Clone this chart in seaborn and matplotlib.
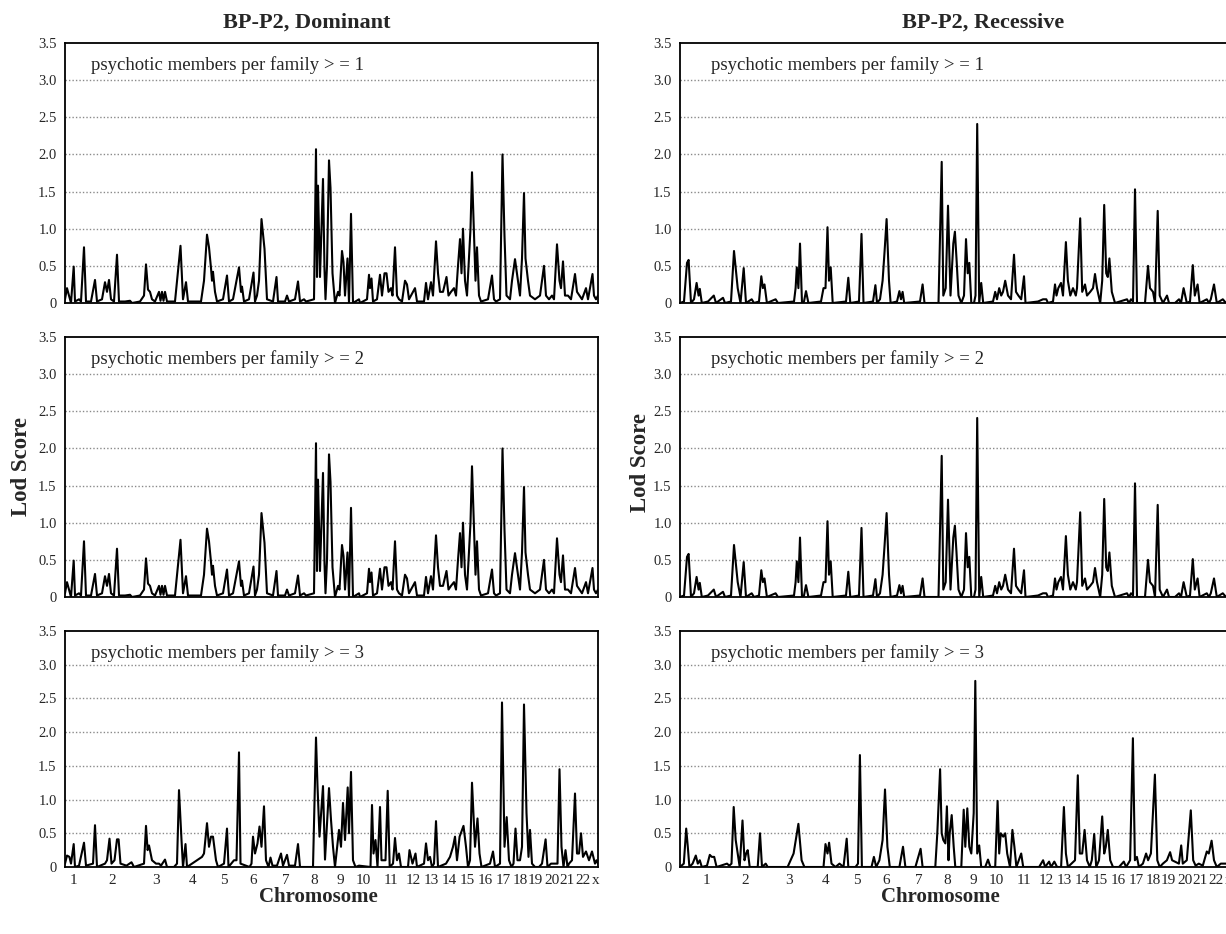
import pandas as pd
import matplotlib
matplotlib.use("Agg")
import matplotlib.pyplot as plt
import seaborn as sns

# genome position (map units along the x axis) and LOD score
DOM_GE1 = [(0, 0.05), (2, 0.2), (4, 0.1), (6, 0.0), (8.7, 0.49), (10, 0.02), (14, 0.05), (16, 0.02),
           (19, 0.75), (21, 0.02), (26, 0.02), (30, 0.31), (32, 0.02), (37, 0.05), (40, 0.28), (42, 0.15),
           (44, 0.31), (46, 0.05), (49, 0.02), (52, 0.65), (54, 0.02), (60, 0.02), (65, 0.03), (67, 0.0),
           (75, 0.02), (79, 0.1), (81, 0.52), (83, 0.18), (85, 0.15), (87, 0.05), (90, 0.02), (94, 0.15),
           (95.5, 0.03), (97, 0.15), (98.5, 0.03), (100, 0.15), (102, 0.02), (110, 0.02), (115.5, 0.77),
           (118, 0.05), (121, 0.28), (123, 0.02), (136, 0.02), (139, 0.3), (142, 0.92), (144, 0.75),
           (146, 0.47), (147, 0.3), (148, 0.42), (150, 0.15), (152, 0.02), (158, 0.05), (162, 0.37),
           (164, 0.02), (168, 0.05), (174, 0.48), (176, 0.15), (177, 0.22), (179, 0.02), (184, 0.05),
           (188.5, 0.41), (190, 0.02), (192, 0.1), (194, 0.3), (196.5, 1.13), (199.5, 0.73), (202, 0.05),
           (208, 0.02), (211.5, 0.35), (213, 0.02), (220, 0.02), (222, 0.1), (224, 0.02), (230, 0.05),
           (233, 0.29), (235, 0.02), (239, 0.05), (241, 0.02), (249, 0.05), (251, 2.07), (252, 0.35),
           (253, 1.58), (255, 0.35), (258, 1.67), (259.5, 0.45), (260.5, 0.05), (262, 0.5), (264, 1.92),
           (265.5, 1.55), (267.5, 0.4), (270, 0.0), (273, 0.15), (274.5, 0.1), (277, 0.70), (278.5, 0.55),
           (280, 0.1), (282.5, 0.6), (284, 0.0), (286, 1.20), (288, 0.0), (294, 0.05), (295, 0.0),
           (302, 0.05), (304, 0.38), (305, 0.2), (306.5, 0.33), (308, 0.02), (312, 0.05), (315, 0.38),
           (317, 0.1), (319.5, 0.4), (321.5, 0.4), (323.5, 0.15), (326, 0.2), (327.5, 0.1), (330, 0.75),
           (332, 0.1), (334, 0.05), (337, 0.02), (340, 0.3), (342, 0.25), (344, 0.05), (350, 0.2),
           (352, 0.02), (359, 0.02), (361, 0.27), (363, 0.05), (366, 0.28), (368, 0.1), (371, 0.83),
           (373, 0.4), (375, 0.15), (378, 0.15), (381.5, 0.35), (383.5, 0.1), (386, 0.15), (389, 0.2),
           (391, 0.1), (393, 0.5), (395, 0.86), (396.5, 0.4), (398, 1.0), (400, 0.3), (402, 0.1),
           (405.5, 1.0), (407, 1.76), (409, 0.9), (410.5, 0.3), (412, 0.75), (414, 0.1), (416, 0.02),
           (423, 0.05), (427, 0.37), (429, 0.05), (431, 0.02), (435, 0.05), (437.5, 2.0), (439.5, 0.9),
           (441.5, 0.1), (445, 0.05), (447, 0.3), (450, 0.59), (453, 0.3), (455, 0.1), (457, 0.6),
           (459, 1.48), (460.5, 0.6), (463, 0.3), (465, 0.1), (470, 0.05), (475, 0.1), (479, 0.5),
           (481, 0.1), (484, 0.05), (487, 0.1), (489, 0.05), (492, 0.79), (494.5, 0.3), (496, 0.2),
           (498, 0.56), (500, 0.1), (503, 0.1), (506, 0.05), (510, 0.39), (512, 0.15), (514.5, 0.1),
           (517, 0.05), (521, 0.2), (523, 0.05), (527.5, 0.39), (529, 0.1), (531, 0.05), (533, 0.1)]

# >=2 curve is practically the same as >=1 in the dominant model
DOM_GE2 = DOM_GE1

DOM_GE3 = [(0, 0.05), (2, 0.17), (4.4, 0.15), (6, 0.05), (8.7, 0.34), (10, 0.0), (14, 0.02), (19, 0.36),
           (21, 0.02), (28, 0.05), (30, 0.62), (32, 0.0), (40, 0.05), (42, 0.1), (44.5, 0.42), (46.5, 0.05),
           (49.5, 0.1), (52, 0.41), (53.6, 0.41), (55.5, 0.05), (61.5, 0.02), (66.5, 0.07), (69, 0.0),
           (79, 0.05), (81, 0.61), (82.6, 0.25), (84, 0.32), (87, 0.1), (91, 0.05), (94, 0.05), (96, 0.02),
           (100, 0.11), (102, 0.0), (109, 0.0), (112, 0.05), (114, 1.14), (116.5, 0.4), (118, 0.0),
           (120.5, 0.34), (122, 0.0), (137, 0.15), (139, 0.2), (142, 0.65), (144, 0.3), (146, 0.45),
           (148, 0.45), (151, 0.1), (153, 0.0), (159, 0.05), (162, 0.57), (163.5, 0.0), (169, 0.1),
           (171.5, 0.1), (174, 1.70), (175.5, 0.05), (184.5, 0.0), (186.5, 0.05), (188, 0.45), (190, 0.2),
           (192.5, 0.35), (194.5, 0.6), (196.5, 0.3), (199, 0.9), (201, 0.1), (203.5, 0.0), (205.5, 0.14),
           (207.5, 0.02), (212, 0.02), (216, 0.2), (218, 0.02), (222, 0.18), (224, 0.02), (230, 0.02),
           (233, 0.34), (235, 0.0), (248, 0.0), (251, 1.92), (252.5, 1.2), (254.5, 0.45), (258, 1.2),
           (260, 0.11), (264, 1.17), (266, 0.7), (268, 0.3), (270, 0.0), (274, 0.55), (276, 0.3),
           (278, 0.95), (280, 0.4), (282.7, 1.18), (284, 0.5), (286, 1.41), (288, 0.1), (290.5, 0.0),
           (294, 0.02), (305.5, 0.0), (307, 0.92), (308.5, 0.2), (310.5, 0.4), (312.5, 0.0), (315, 0.89),
           (316.5, 0.1), (320.5, 0.1), (322.7, 1.13), (324.7, 0.0), (328, 0.05), (330, 0.43), (332, 0.1),
           (334, 0.2), (336, 0.0), (343, 0.0), (344.5, 0.25), (347.5, 0.05), (350.5, 0.2), (352, 0.0),
           (359, 0.05), (361, 0.35), (363, 0.1), (365, 0.15), (367, 0.0), (369, 0.05), (371, 0.68),
           (373, 0.0), (381, 0.05), (385, 0.15), (388, 0.3), (390, 0.45), (392, 0.1), (394.6, 0.45),
           (398.5, 0.61), (401, 0.3), (403, 0.0), (405, 0.1), (407, 1.25), (410, 0.3), (412.5, 0.72),
           (414.5, 0.2), (416.5, 0.0), (425, 0.05), (428, 0.23), (430, 0.0), (435, 0.05), (437, 2.44),
           (439.5, 0.3), (441.7, 0.74), (444, 0.1), (446.5, 0.0), (448.5, 0.05), (450.5, 0.57),
           (452.5, 0.1), (455, 0.1), (457, 0.3), (459, 2.41), (461.5, 0.8), (463.5, 0.15), (465, 0.55),
           (467, 0.05), (470, 0.0), (474, 0.0), (477, 0.05), (480.6, 0.41), (482.5, 0.0), (486, 0.05),
           (492.5, 0.05), (494.5, 1.45), (496.5, 0.3), (498.5, 0.0), (500.5, 0.25), (502.5, 0.0),
           (504, 0.05), (507, 0.1), (510, 1.09), (512, 0.2), (514, 0.2), (516, 0.5), (518, 0.15),
           (521, 0.23), (524, 0.1), (527, 0.23), (530, 0.05), (531.5, 0.1), (533, 0.05)]

REC_GE1 = [(-18, 0.0), (-14, 0.02), (-11, 0.54), (-9.4, 0.58), (-7, 0.0), (-4, 0.05), (-1.4, 0.27),
           (0.6, 0.1), (1.8, 0.19), (3.8, 0.0), (10, 0.02), (15.8, 0.1), (18, 0.0), (25, 0.07), (27, 0.0),
           (33, 0.02), (36, 0.70), (39.7, 0.2), (42.5, 0.0), (45.7, 0.47), (48, 0.0), (53.7, 0.05),
           (56, 0.0), (61, 0.02), (63.3, 0.36), (64.9, 0.2), (66.5, 0.25), (68.9, 0.0), (77.6, 0.05),
           (80, 0.0), (96, 0.02), (97.6, 0.2), (98.8, 0.48), (100.4, 0.2), (102, 0.8), (104, 0.0),
           (106, 0.02), (108, 0.16), (110.4, 0.0), (123, 0.02), (125.5, 0.2), (127.5, 0.2), (129.5, 1.02),
           (131, 0.3), (132.7, 0.48), (134.7, 0.0), (148, 0.02), (150.3, 0.34), (152.3, 0.0), (161, 0.02),
           (163.5, 0.93), (165.5, 0.0), (175, 0.02), (177.4, 0.24), (179, 0.0), (182, 0.05), (184.6, 0.3),
           (186.6, 0.7), (188.6, 1.13), (191, 0.3), (192.6, 0.0), (199, 0.02), (201.4, 0.16), (203, 0.05),
           (204.6, 0.15), (206.2, 0.0), (222, 0.02), (224.6, 0.25), (226.5, 0.0), (240.5, 0.0),
           (243.7, 1.90), (245.3, 0.1), (247.7, 0.2), (250, 1.31), (252.5, 0.1), (255.3, 0.8),
           (256.9, 0.96), (258.5, 0.6), (260.5, 0.1), (263.3, 0.0), (266, 0.1), (268, 0.86), (269.7, 0.4),
           (271.3, 0.54), (273.3, 0.0), (276, 0.0), (277.5, 0.1), (279.2, 2.41), (281.2, 0.0), (283.2, 0.27),
           (285.2, 0.0), (295, 0.02), (297.2, 0.15), (299, 0.05), (301.2, 0.2), (303.2, 0.1), (305, 0.15),
           (307.2, 0.3), (310, 0.1), (313, 0.05), (316, 0.65), (318, 0.15), (320.4, 0.1), (323.2, 0.05),
           (326, 0.36), (327.5, 0.0), (340, 0.02), (345, 0.05), (348.3, 0.05), (350, 0.0), (355, 0.02),
           (357, 0.25), (358.5, 0.1), (360.3, 0.2), (363, 0.27), (365, 0.1), (367.9, 0.82), (369.9, 0.3),
           (372.3, 0.1), (375, 0.2), (377.8, 0.1), (379, 0.2), (382.2, 1.14), (384.2, 0.15), (387, 0.25),
           (389, 0.1), (392.2, 0.15), (395, 0.2), (397, 0.39), (399, 0.2), (402.2, 0.0), (404.2, 0.3),
           (406.2, 1.32), (408.2, 0.4), (409.8, 0.35), (411.4, 0.6), (413.8, 0.15), (417, 0.0), (429, 0.05),
           (431, 0.0), (433, 0.05), (435, 0.02), (437, 1.53), (439, 0.0), (447, 0.0), (450, 0.5),
           (452, 0.2), (455, 0.15), (457, 0.0), (459.7, 1.24), (461.7, 0.1), (465, 0.0), (469, 0.1),
           (471, 0.0), (477, 0.0), (481, 0.05), (483, 0.0), (485.6, 0.2), (488.8, 0.0), (492, 0.02),
           (494.8, 0.51), (496.8, 0.1), (499.6, 0.25), (501.6, 0.0), (508.8, 0.05), (511, 0.0),
           (512.8, 0.05), (516, 0.25), (518.8, 0.0), (524.8, 0.05), (528, 0.0), (533, 0.02)]

# >=2 curve is practically the same as >=1 in the recessive model
REC_GE2 = REC_GE1

REC_GE3 = [(-18, 0.0), (-14.2, 0.05), (-11.8, 0.57), (-10.2, 0.3), (-8.6, 0.0), (-5.4, 0.05), (-2.2, 0.17),
           (-0.2, 0.05), (1.8, 0.1), (3.8, 0.0), (9, 0.02), (11.8, 0.18), (13.8, 0.15), (16.2, 0.15),
           (18.6, 0.0), (29, 0.05), (31.3, 0.02), (33.5, 0.05), (35.7, 0.89), (37.7, 0.4), (39.7, 0.2),
           (41.7, 0.0), (44.5, 0.69), (46.5, 0.1), (48.1, 0.2), (49.7, 0.25), (51.7, 0.0), (59.7, 0.0),
           (62, 0.5), (64, 0.0), (67.7, 0.05), (69.7, 0.0), (89.6, 0.0), (95.6, 0.2), (100.4, 0.64),
           (103.6, 0.1), (106.4, 0.0), (125.5, 0.0), (127.5, 0.34), (129.5, 0.2), (131.1, 0.36),
           (133.5, 0.05), (137.5, 0.0), (141.5, 0.05), (145.5, 0.0), (148.7, 0.42), (150.3, 0.0),
           (157.5, 0.0), (160, 0.05), (161.9, 1.66), (163.9, 0.0), (173.5, 0.0), (175.9, 0.15), (178.2, 0.0),
           (181.4, 0.1), (184.6, 0.4), (187, 1.15), (189.4, 0.3), (191.8, 0.0), (201.4, 0.0), (205, 0.3),
           (207.4, 0.0), (217.4, 0.0), (222.6, 0.27), (224.6, 0.0), (237.3, 0.0), (239.3, 0.5),
           (242.1, 1.45), (243.7, 0.5), (245.3, 0.4), (247.3, 0.35), (248.9, 0.9), (250.5, 0.1),
           (251.7, 0.5), (253.7, 0.77), (255.7, 0.3), (257.3, 0.0), (263.3, 0.0), (265.7, 0.85),
           (267.3, 0.3), (269.3, 0.87), (271.3, 0.3), (273.3, 0.2), (275.7, 0.8), (277.3, 2.76),
           (279.2, 0.2), (281.2, 0.32), (283.2, 0.0), (287.2, 0.0), (290, 0.11), (292.4, 0.0), (297.2, 0.0),
           (299.6, 0.98), (301.2, 0.2), (302.8, 0.5), (305.2, 0.45), (307.2, 0.5), (309.2, 0.2), (312, 0.0),
           (314.4, 0.55), (316.4, 0.3), (318.4, 0.0), (323.2, 0.2), (325.2, 0.0), (341.1, 0.0),
           (345.1, 0.1), (347.1, 0.0), (351.1, 0.08), (353.1, 0.0), (356.3, 0.08), (359.1, 0.0),
           (363.1, 0.0), (365.9, 0.89), (367.9, 0.2), (369.9, 0.0), (377, 0.1), (379.8, 1.36),
           (381.8, 0.2), (384.2, 0.2), (386.6, 0.55), (389, 0.1), (391.8, 0.0), (393.8, 0.1), (396.2, 0.49),
           (398.2, 0.0), (401, 0.1), (404.2, 0.75), (406.2, 0.2), (407.8, 0.3), (409.8, 0.55), (412.2, 0.1),
           (415, 0.0), (421, 0.0), (425.8, 0.08), (428.1, 0.0), (432.1, 0.1), (434.9, 1.91), (436.9, 0.1),
           (438.9, 0.15), (440.9, 0.0), (444.9, 0.05), (448.1, 0.2), (450.1, 0.1), (452.9, 0.2),
           (456.9, 1.37), (459.3, 0.1), (461.7, 0.0), (464.9, 0.05), (468.9, 0.1), (472.1, 0.22),
           (474.1, 0.1), (476.9, 0.08), (480.9, 0.05), (483.2, 0.32), (484.8, 0.05), (488.8, 0.1),
           (492.8, 0.84), (495.2, 0.1), (497.6, 0.02), (500.8, 0.05), (504.8, 0.02), (508.8, 0.23),
           (510.8, 0.2), (513.6, 0.39), (516, 0.1), (518.8, 0.0), (522.8, 0.05), (528, 0.05), (533, 0.03)]

CHROM_LABELS = [str(i) for i in range(1, 23)] + ["x"]
CHROM_TICKS = [8, 47, 91, 128, 159, 188, 221, 249, 275, 298, 326, 348, 366, 384, 402, 420,
               438, 455, 470, 487, 502, 518, 531]
Y_TICKS = [0, 0.5, 1.0, 1.5, 2.0, 2.5, 3.0, 3.5]
Y_LABELS = ["0", "0.5", "1.0", "1.5", "2.0", "2.5", "3.0", "3.5"]
PANEL_TEXT = ["psychotic members per family > = 1",
              "psychotic members per family > = 2",
              "psychotic members per family > = 3"]
COL_TITLES = ["BP-P2, Dominant", "BP-P2, Recessive"]

sns.set_style("white")
plt.rcParams['font.family'] = ['Liberation Serif', 'DejaVu Serif']

W, H = 1226, 934
fig = plt.figure(figsize=(W / 100, H / 100), dpi=100)

# axes boxes in pixels
col_px = [(65, 598), (680, 1231)]
row_px = [(43, 303), (337, 597), (631, 867)]
xlims = [(0, 533), (-18, 533)]
data = [[DOM_GE1, DOM_GE2, DOM_GE3], [REC_GE1, REC_GE2, REC_GE3]]

for c in range(2):
    x0, x1 = col_px[c]
    for r in range(3):
        y0, y1 = row_px[r]
        ax = fig.add_axes([x0 / W, 1 - y1 / H, (x1 - x0) / W, (y1 - y0) / H])
        df = pd.DataFrame(data[c][r], columns=['pos', 'lod'])
        sns.lineplot(data=df, x='pos', y='lod', ax=ax, color='black', linewidth=1.5,
                     estimator=None, sort=False)
        ax.set_xlim(*xlims[c])
        ax.set_ylim(0, 3.5)
        for yv in [0.5, 1.0, 1.5, 2.0, 2.5, 3.0]:
            ax.axhline(yv, color='#8a8a8a', linewidth=1.0, linestyle=(0, (1, 1.5)), zorder=0)
        ax.set_yticks(Y_TICKS)
        ax.set_yticklabels(Y_LABELS, fontsize=10.5)
        ax.tick_params(axis='y', length=0, pad=6)
        if r == 2:
            ax.set_xticks(CHROM_TICKS)
            ax.set_xticklabels(CHROM_LABELS, fontsize=11)
            ax.tick_params(axis='x', length=0, pad=5)
        else:
            ax.set_xticks([])
        ax.set_xlabel('')
        ax.set_ylabel('')
        for s in ax.spines.values():
            s.set_color('black')
            s.set_linewidth(1.3)
        tx = (26 if c == 0 else 31) / (x1 - x0)
        ax.text(tx, 1 - 22 / (y1 - y0), PANEL_TEXT[r], transform=ax.transAxes,
                fontsize=13.5, va='center', ha='left')

fig.text(307 / W, 1 - 23 / H, COL_TITLES[0], ha='center', va='center', fontsize=16, fontweight='bold')
fig.text(983 / W, 1 - 23 / H, COL_TITLES[1], ha='center', va='center', fontsize=16, fontweight='bold')
fig.text(318 / W, 1 - 897 / H, 'Chromosome', ha='center', va='center', fontsize=15, fontweight='bold')
fig.text(940 / W, 1 - 897 / H, 'Chromosome', ha='center', va='center', fontsize=15, fontweight='bold')
fig.text(22 / W, 1 - 466 / H, 'Lod Score', ha='center', va='center', rotation=90,
         fontsize=16.5, fontweight='bold')
fig.text(640 / W, 1 - 463 / H, 'Lod Score', ha='center', va='center', rotation=90,
         fontsize=16.5, fontweight='bold')

fig.savefig('out.png', dpi=100)
